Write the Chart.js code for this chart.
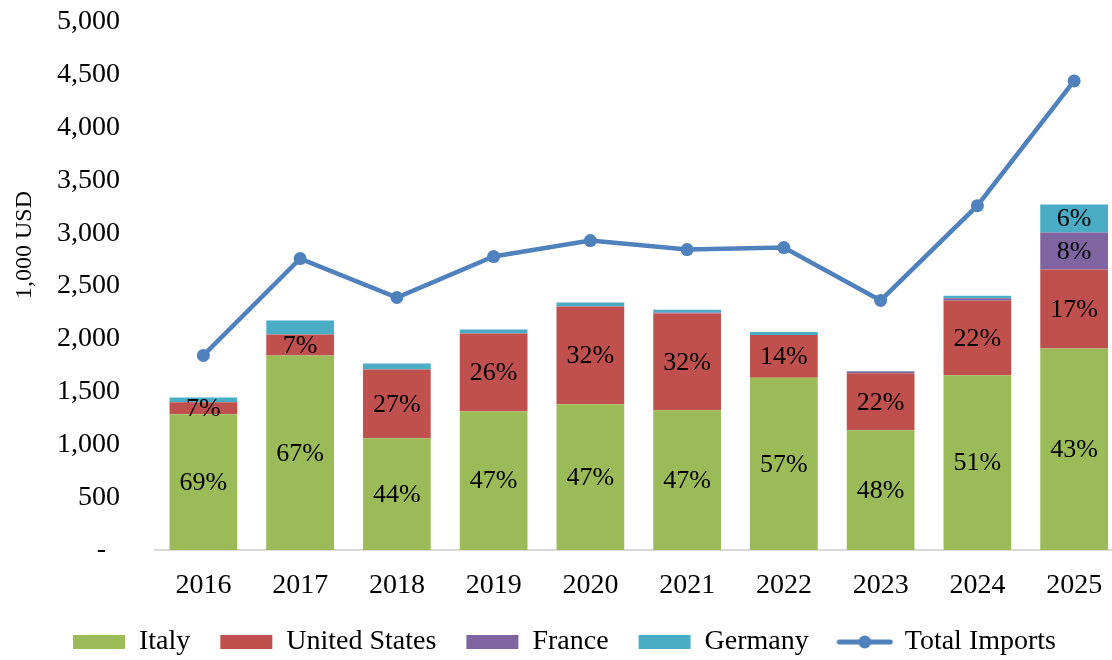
<!DOCTYPE html>
<html>
<head>
<meta charset="utf-8">
<script src="https://cdn.jsdelivr.net/npm/chart.js@4.4.1/dist/chart.umd.min.js"></script>
<style>
  html, body { margin: 0; padding: 0; background: #fff; }
  body { width: 1112px; height: 660px; overflow: hidden; position: relative; }
  #wrap { position: absolute; left: 0; top: 0; width: 1129px; height: 666px; }
</style>
</head>
<body>
<div id="wrap"><canvas id="chart"></canvas></div>
<script>
const years = ['2016', '2017', '2018', '2019', '2020', '2021', '2022', '2023', '2024', '2025'];

// imports by origin, 1,000 USD
const italy   = [1285, 1843, 1059, 1314, 1380, 1323, 1630, 1134, 1654, 1909];
const usa     = [113, 198, 650, 737, 926, 917, 406, 539, 709, 747];
const france  = [0, 0, 0, 0, 0, 8, 0, 18, 20, 350];
const germany = [47, 132, 57, 38, 38, 28, 28, 5, 25, 265];
const totalImports = [1843, 2760, 2391, 2779, 2930, 2845, 2864, 2363, 3261, 4442];

// share of total imports shown on the bars
const italyShare   = ['69%', '67%', '44%', '47%', '47%', '47%', '57%', '48%', '51%', '43%'];
const usaShare     = ['7%', '7%', '27%', '26%', '32%', '32%', '14%', '22%', '22%', '17%'];
const franceShare  = ['', '', '', '', '', '', '', '', '', '8%'];
const germanyShare = ['', '', '', '', '', '', '', '', '', '6%'];

const yTicks = [0, 500, 1000, 1500, 2000, 2500, 3000, 3500, 4000, 4500, 5000];
const yTitle = '1,000 USD';

const FONT = "'Liberation Serif', 'Times New Roman', serif";
const LINE_COLOR = '#4F81BD';

// little line-with-dot for the legend
function lineMarker() {
  const c = document.createElement('canvas');
  c.width = 57;
  c.height = 16;
  const g = c.getContext('2d');
  g.strokeStyle = LINE_COLOR;
  g.lineWidth = 5;
  g.lineCap = 'round';
  g.beginPath();
  g.moveTo(3, 8);
  g.lineTo(54, 8);
  g.stroke();
  g.fillStyle = LINE_COLOR;
  g.beginPath();
  g.arc(28.5, 8, 6.5, 0, Math.PI * 2);
  g.fill();
  return c;
}
const lineLegendImg = lineMarker();

const barLabels = {
  id: 'barLabels',
  afterDatasetsDraw(chart) {
    const ctx = chart.ctx;
    ctx.save();
    ctx.font = '26px ' + FONT;
    ctx.fillStyle = '#000';
    ctx.textAlign = 'center';
    ctx.textBaseline = 'middle';
    chart.data.datasets.forEach((ds, i) => {
      if (!ds.shareLabels) return;
      const meta = chart.getDatasetMeta(i);
      meta.data.forEach((bar, j) => {
        const txt = ds.shareLabels[j];
        if (!txt) return;
        ctx.fillText(txt, bar.x, (bar.y + bar.base) / 2 + 1);
      });
    });
    ctx.restore();
  }
};

// axis title sits above the middle of the axis in the original
const axisTitle = {
  id: 'axisTitle',
  afterDraw(chart) {
    const ctx = chart.ctx;
    ctx.save();
    ctx.translate(25, 245);
    ctx.rotate(-Math.PI / 2);
    ctx.font = '24px ' + FONT;
    ctx.fillStyle = '#000';
    ctx.textAlign = 'center';
    ctx.textBaseline = 'middle';
    ctx.fillText(yTitle, 0, 0);
    ctx.restore();
  }
};

const ctx = document.getElementById('chart').getContext('2d');
new Chart(ctx, {
  type: 'bar',
  data: {
    labels: years,
    datasets: [
      { label: 'Italy', data: italy, backgroundColor: '#9BBB59', stack: 'imp', order: 1, shareLabels: italyShare },
      { label: 'United States', data: usa, backgroundColor: '#C0504D', stack: 'imp', order: 1, shareLabels: usaShare },
      { label: 'France', data: france, backgroundColor: '#8064A2', stack: 'imp', order: 1, shareLabels: franceShare },
      { label: 'Germany', data: germany, backgroundColor: '#4BACC6', stack: 'imp', order: 1, shareLabels: germanyShare },
      {
        type: 'line',
        label: 'Total Imports',
        data: totalImports,
        stack: 'total',
        order: 0,
        borderColor: LINE_COLOR,
        backgroundColor: LINE_COLOR,
        borderWidth: 4.5,
        pointRadius: 6.5,
        pointBackgroundColor: LINE_COLOR,
        pointBorderWidth: 0,
        tension: 0
      }
    ]
  },
  options: {
    responsive: true,
    maintainAspectRatio: false,
    animation: false,
    layout: { padding: { top: 22, right: 0, bottom: 0, left: 0 } },
    datasets: {
      bar: { barPercentage: 0.7, categoryPercentage: 1.0 }
    },
    plugins: {
      tooltip: { enabled: false },
      legend: {
        position: 'bottom',
        labels: {
          font: { family: FONT, size: 28 },
          color: '#000',
          usePointStyle: true,
          pointStyleWidth: 52,
          boxHeight: 14,
          padding: 30,
          sort: (a, b) => a.datasetIndex - b.datasetIndex,
          generateLabels(chart) {
            const items = Chart.defaults.plugins.legend.labels.generateLabels(chart);
            items.forEach(it => {
              it.lineWidth = 0;
              it.pointStyle = it.datasetIndex === 4 ? lineLegendImg : 'rect';
            });
            return items;
          }
        }
      }
    },
    scales: {
      x: {
        stacked: true,
        grid: { display: false, drawTicks: false },
        border: { display: true, color: '#D9D9D9', width: 2 },
        ticks: { font: { family: FONT, size: 28 }, color: '#000', padding: 19 },
        afterFit(scale) {
          scale.height = 48;
          scale.paddingLeft = 0;
          scale.paddingRight = 0;
        }
      },
      y: {
        stacked: true,
        min: 0,
        max: 5000,
        grid: { display: false, drawTicks: false },
        border: { display: false },
        afterBuildTicks(scale) { scale.ticks = yTicks.map(v => ({ value: v })); },
        ticks: {
          font: { family: FONT, size: 28 },
          color: '#000',
          padding: 35,
          callback: v => v === 0 ? '-  ' : v.toLocaleString('en-US')
        },
        afterFit(scale) {
          scale.width = 155;
          scale.paddingTop = 0;
          scale.paddingBottom = 0;
        }
      }
    }
  },
  plugins: [barLabels, axisTitle]
});
</script>
</body>
</html>
